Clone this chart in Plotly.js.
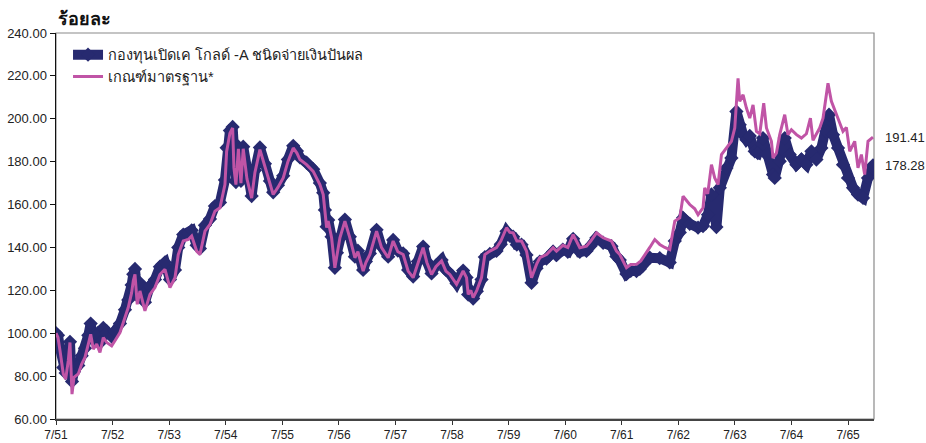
<!DOCTYPE html>
<html>
<head>
<meta charset="utf-8">
<script src="https://cdn.plot.ly/plotly-3.0.1.min.js"></script>
<style>
html,body{margin:0;padding:0;background:#fff;}
#chart{width:926px;height:443px;}
</style>
</head>
<body>
<div id="chart"></div>
<script>
// Time in decimal years (Gregorian); ticks at July of each year (Thai B.E. labels)
const benchT = [2008.500,2008.535,2008.571,2008.629,2008.671,2008.717,2008.747,2008.765,2008.783,2008.818,2008.894,2008.954,2009.012,2009.071,2009.113,2009.159,2009.219,2009.277,2009.336,2009.396,2009.484,2009.542,2009.631,2009.719,2009.777,2009.837,2009.866,2009.896,2009.936,2009.984,2010.072,2010.161,2010.249,2010.337,2010.426,2010.514,2010.603,2010.661,2010.749,2010.837,2010.898,2010.986,2011.044,2011.133,2011.221,2011.309,2011.398,2011.486,2011.516,2011.574,2011.622,2011.645,2011.680,2011.724,2011.769,2011.809,2011.875,2011.958,2012.016,2012.104,2012.193,2012.281,2012.339,2012.422,2012.516,2012.599,2012.693,2012.758,2012.811,2012.929,2013.046,2013.164,2013.223,2013.253,2013.283,2013.311,2013.371,2013.429,2013.465,2013.518,2013.606,2013.694,2013.783,2013.836,2013.929,2013.977,2014.048,2014.166,2014.254,2014.371,2014.459,2014.542,2014.636,2014.724,2014.813,2014.896,2014.989,2015.055,2015.138,2015.214,2015.315,2015.391,2015.461,2015.580,2015.638,2015.696,2015.756,2015.785,2015.832,2015.873,2015.938,2016.021,2016.080,2016.168,2016.286,2016.362,2016.463,2016.521,2016.580,2016.645,2016.728,2016.816,2016.905,2016.993,2017.051,2017.170,2017.286,2017.346,2017.458,2017.546,2017.640,2017.758,2017.876,2017.952,2018.053,2018.170,2018.318,2018.406,2018.465,2018.583,2018.659,2018.760,2018.836,2018.937,2018.995,2019.083,2019.171,2019.260,2019.348,2019.437,2019.525,2019.583,2019.643,2019.701,2019.790,2019.848,2019.936,2019.966,2020.019,2020.085,2020.143,2020.202,2020.262,2020.350,2020.438,2020.497,2020.555,2020.585,2020.644,2020.703,2020.762,2020.820,2020.880,2020.939,2021.009,2021.057,2021.145,2021.173,2021.233,2021.292,2021.380,2021.438,2021.498,2021.587,2021.675,2021.763,2021.834,2021.880,2021.940,2021.998,2022.057,2022.145,2022.205,2022.264,2022.322,2022.410,2022.470,2022.529,2022.617,2022.675,2022.735,2022.793,2022.852,2022.940];
const benchV = [100.0,98,91.8,81,78.6,87.2,95.7,82.5,71.6,79.4,81,85.6,88.7,94.9,99.5,92.6,94.9,91,98,95.7,94.1,96.5,100.3,107.3,112,118.9,124.4,127.4,113.5,119.7,110.4,118.1,121.3,127.4,129.8,121.3,125.9,136.7,143,143.7,145.3,138.3,136.7,147.6,150.7,156.9,158.5,169.3,184.8,193.3,195.7,177.1,169.3,186,170,186,172,163,175,185.6,178,170,164.7,168,172.4,180,186.4,184,181,178.6,175.5,169.3,164.7,157,149.2,152.3,144.5,130.5,137,144.5,152.3,144.5,135.2,138,129,133,136.7,147.6,139.9,135.2,143,138,136.7,129,125.9,133,139.9,133,127.4,131,133.7,129,127.4,122.8,126,129,125.9,118.1,120,116.6,120,125.9,136.7,138.3,139.9,143,149.2,147,146.8,143,143,138.3,125.9,132.1,135.2,136.7,139.9,138.3,141,140,146,139.9,140.6,143,146.8,144.5,143,138.3,136.7,130.5,132,132.1,133.7,137.5,140,143.7,141.4,140,139,152.3,153.8,163.9,162,160,158,155.3,158.5,167.8,165,178.6,172.4,169.3,183.3,186.4,189.5,195.7,218.9,208.1,211.2,205,200.3,206.5,194.1,193,207.3,195.7,189.5,181.7,184,192.6,201.9,192.6,194.9,192.6,191,193,200.3,190,193,195.7,200.3,216.6,208.1,204,199.5,194.1,196,184.8,189.5,177.1,183.3,174,189.5,191.41];

const fundT = [2008.500,2008.535,2008.571,2008.629,2008.671,2008.717,2008.747,2008.765,2008.783,2008.818,2008.894,2008.954,2009.012,2009.071,2009.113,2009.159,2009.219,2009.277,2009.336,2009.396,2009.484,2009.542,2009.631,2009.719,2009.777,2009.837,2009.866,2009.896,2009.936,2009.984,2010.072,2010.161,2010.249,2010.337,2010.426,2010.514,2010.603,2010.661,2010.749,2010.837,2010.898,2010.986,2011.044,2011.133,2011.221,2011.309,2011.398,2011.486,2011.516,2011.574,2011.622,2011.645,2011.680,2011.724,2011.769,2011.809,2011.875,2011.958,2012.016,2012.104,2012.193,2012.281,2012.339,2012.422,2012.516,2012.599,2012.693,2012.758,2012.811,2012.929,2013.046,2013.164,2013.223,2013.253,2013.283,2013.311,2013.371,2013.429,2013.465,2013.518,2013.606,2013.694,2013.783,2013.836,2013.929,2013.977,2014.048,2014.166,2014.254,2014.371,2014.459,2014.542,2014.636,2014.724,2014.813,2014.896,2014.989,2015.055,2015.138,2015.214,2015.315,2015.391,2015.461,2015.580,2015.638,2015.696,2015.756,2015.785,2015.832,2015.873,2015.938,2016.021,2016.080,2016.168,2016.286,2016.362,2016.463,2016.521,2016.580,2016.645,2016.728,2016.816,2016.905,2016.993,2017.051,2017.170,2017.286,2017.346,2017.458,2017.546,2017.640,2017.758,2017.876,2017.952,2018.053,2018.170,2018.318,2018.406,2018.465,2018.583,2018.659,2018.760,2018.818,2018.995,2019.171,2019.348,2019.437,2019.525,2019.583,2019.701,2019.848,2019.936,2020.024,2020.085,2020.173,2020.233,2020.350,2020.438,2020.526,2020.585,2020.644,2020.703,2020.762,2020.850,2020.903,2020.996,2021.057,2021.173,2021.203,2021.292,2021.380,2021.468,2021.587,2021.675,2021.763,2021.852,2021.940,2022.028,2022.117,2022.163,2022.234,2022.322,2022.410,2022.498,2022.587,2022.675,2022.764,2022.852,2022.940];
const fundV = [100,99,93,84,81.5,89,96,85,77.5,82,85,89.5,93,99,104.5,97,99,95.5,102.5,100,98.5,101,104.5,111,115.5,122.5,127.5,130,117.5,123.5,114.5,122,125,131,133,125,129.5,140,146,146.5,148,141,139.5,150.3,153.3,159.3,161,171.5,186.5,194.5,196.2,178.5,170.5,187,171,187,173,164,176,186.6,179,171,165.7,169,173.4,181,187.4,185,182,179.5,176.5,170,165.5,157.5,149.7,152.8,145,130.5,137.5,145,153,145,135.7,138.5,129.5,133.5,137.2,148.2,140.4,135.7,143.5,138.5,137.2,129.5,126.4,133.5,140.4,133.5,127.9,131.5,134.2,129.5,127.9,123.2,126.4,129.2,126,118,119.8,116.2,119.6,125,135.5,137,138.4,141.5,147.5,145.4,145,141.3,141.3,136.5,123.5,130.3,133.4,134.8,138,136.4,139,138,144,137.9,138.4,140.8,144.5,142.2,140.6,135.8,134.1,127.6,129.1,129,130,135.2,135,133,143,147,153.8,151,149.2,150,155.3,164.7,149.5,167.8,177.1,181.7,203.4,197.2,192.6,190.2,192,184.8,184,191,183.3,174,172.4,180.2,191,183.3,178.6,181,178.6,184.8,181,186.4,194.1,201.9,192.6,186.4,178.6,172.4,167.8,164.7,163.1,172.4,178.28];

const tickVals = [2008.5,2009.5,2010.5,2011.5,2012.5,2013.5,2014.5,2015.5,2016.5,2017.5,2018.5,2019.5,2020.5,2021.5,2022.5];
const tickText = ['7/51','7/52','7/53','7/54','7/55','7/56','7/57','7/58','7/59','7/60','7/61','7/62','7/63','7/64','7/65'];

const fundName = 'กองทุนเปิดเค โกลด์ -A ชนิดจ่ายเงินปันผล';
const benchName = 'เกณฑ์มาตรฐาน*';
const navy = '#272a70';
const pink = '#c054a6';

const traces = [
  {x: fundT, y: fundV, name: fundName, type: 'scatter', mode: 'lines+markers',
   line: {color: navy, width: 10}, marker: {symbol: 'diamond', size: 11, color: navy}},
  {x: benchT, y: benchV, name: benchName, type: 'scatter', mode: 'lines',
   line: {color: pink, width: 3}}
];

const fnt = 'Liberation Sans, Arial, Noto Sans, sans-serif';
const layout = {
  width: 926, height: 443,
  margin: {l: 56, r: 52, t: 33, b: 24, pad: 0},
  paper_bgcolor: '#fff', plot_bgcolor: '#fff',
  font: {family: fnt, size: 12, color: '#222'},
  title: {text: '<b>ร้อยละ</b>', font: {size: 18, color: '#111', family: fnt},
          xref: 'paper', x: 0.002, xanchor: 'left', yref: 'container', y: 0.958, yanchor: 'middle'},
  showlegend: true,
  legend: {x: 0.0147, y: 0.985, xanchor: 'left', yanchor: 'top', bgcolor: 'rgba(0,0,0,0)',
           font: {size: 14.5, color: '#222', family: fnt}, tracegroupgap: 0, itemwidth: 30},
  xaxis: {type: 'linear', range: [2008.5, 2022.958], tickmode: 'array', tickvals: tickVals, ticktext: tickText,
          ticks: 'outside', ticklen: 4, tickcolor: '#333', showgrid: false, zeroline: false,
          showline: true, linecolor: '#444', linewidth: 2, tickfont: {size: 12, color: '#222'}},
  yaxis: {range: [60, 240], dtick: 20, tick0: 60, tickformat: '.2f', ticks: 'outside', ticklen: 5,
          tickcolor: '#111', showgrid: false, zeroline: false, showline: true, linecolor: '#111', linewidth: 1.5,
          tickfont: {size: 13, color: '#222'}},
  shapes: [{type: 'rect', xref: 'paper', yref: 'paper', x0: 0, x1: 1, y0: 0, y1: 1,
            line: {color: '#8a8a8a', width: 1.2}, layer: 'below'}],
  annotations: [
    {xref: 'paper', x: 1, xanchor: 'left', xshift: 9, yref: 'y', y: benchV[benchV.length-1],
     text: benchV[benchV.length-1].toFixed(2), showarrow: false, font: {size: 13, color: '#222'}},
    {xref: 'paper', x: 1, xanchor: 'left', xshift: 9, yref: 'y', y: fundV[fundV.length-1],
     text: fundV[fundV.length-1].toFixed(2), showarrow: false, font: {size: 13, color: '#222'}}
  ]
};

Plotly.newPlot('chart', traces, layout, {displayModeBar: false, staticPlot: true});
</script>
</body>
</html>
